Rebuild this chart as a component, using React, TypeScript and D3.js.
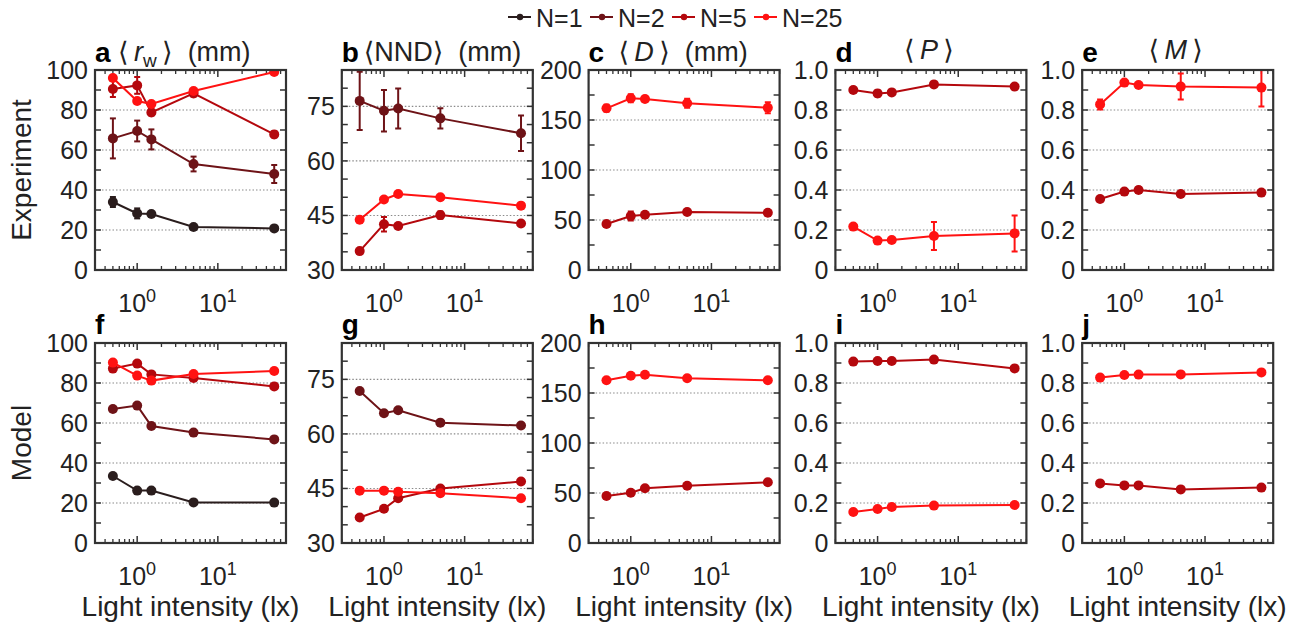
import React from "react";
import * as d3 from "d3";

// ---------------- data ----------------
const LIGHT_LUX = [0.5, 1, 1.5, 5, 50];
const SERIES_NAMES = ["N=1", "N=2", "N=5", "N=25"];
const SERIES_COLORS = ["#2a1d1d", "#6e1317", "#b4080d", "#ff1212"];
const ROW_LABELS = ["Experiment", "Model"];
const X_AXIS_LABEL = "Light intensity (lx)";
const X_TICK_EXPONENTS = [0, 1];

// Experiment: <r_w> (mm)
const rwExpN1 = [34, 28.3, 28, 21.5, 20.8];
const rwExpN1Err = [2.5, 2.5, 1.2, 1, 0.8];
const rwExpN2 = [65.8, 69.5, 65.3, 53, 48];
const rwExpN2Err = [10, 5.2, 5, 3.7, 4.5];
const rwExpN5 = [90.5, 92.3, 78.8, 88.3, 67.8];
const rwExpN5Err = [4, 4.2, 1.5, 1.5, 1.5];
const rwExpN25 = [96, 84.5, 83, 89.5, 99];
const rwExpN25Err = [1, 1, 1, 1, 0.8];

// Experiment: <NND> (mm)
const nndExpN2 = [76.5, 73.8, 74.4, 71.7, 67.6];
const nndExpN2Err = [8, 5.7, 5.5, 2.8, 4.9];
const nndExpN5 = [35.2, 42.6, 42.1, 45.1, 42.8];
const nndExpN5Err = [0.6, 2, 0.6, 1, 0.6];
const nndExpN25 = [43.8, 49.4, 50.9, 50, 47.7];
const nndExpN25Err = [0.5, 0.6, 0.5, 0.5, 0.5];

// Experiment: <D> (mm)
const dExpN5 = [46, 54, 55.3, 58, 57.3];
const dExpN5Err = [2, 4.5, 2, 2, 2];
const dExpN25 = [161.7, 171.7, 171, 166.7, 162.3];
const dExpN25Err = [3.5, 4, 2, 4.5, 5.5];

// Experiment: <P>
const pExpN5 = [0.9, 0.883, 0.888, 0.928, 0.917];
const pExpN5Err = [0.012, 0.015, 0.01, 0.01, 0.01];
const pExpN25 = [0.217, 0.147, 0.15, 0.17, 0.183];
const pExpN25Err = [0.01, 0.01, 0.01, 0.07, 0.09];

// Experiment: <M>
const mExpN5 = [0.355, 0.392, 0.4, 0.38, 0.387];
const mExpN5Err = [0.01, 0.012, 0.015, 0.01, 0.01];
const mExpN25 = [0.828, 0.937, 0.925, 0.917, 0.912];
const mExpN25Err = [0.025, 0.01, 0.01, 0.065, 0.095];

// Model
const rwModN1 = [33.5, 26.2, 26.2, 20.3, 20.2];
const rwModN2 = [67, 68.7, 58.5, 55.2, 51.8];
const rwModN5 = [87.2, 89.7, 84.3, 82.5, 78.3];
const rwModN25 = [90.2, 83.7, 81.2, 84.5, 86];

const nndModN2 = [71.8, 65.7, 66.5, 63.1, 62.3];
const nndModN5 = [37, 39.4, 42.3, 45, 46.9];
const nndModN25 = [44.4, 44.4, 44.1, 43.7, 42.3];

const dModN5 = [47, 50.3, 54.7, 57.3, 60.7];
const dModN25 = [162.7, 167.3, 168.3, 164.7, 162.7];

const pModN5 = [0.907, 0.91, 0.91, 0.917, 0.873];
const pModN25 = [0.155, 0.17, 0.18, 0.187, 0.19];

const mModN5 = [0.298, 0.288, 0.288, 0.268, 0.277];
const mModN25 = [0.827, 0.84, 0.842, 0.843, 0.853];

// ---------------- configuration ----------------
type Series = { idx: number; values: number[]; errors?: number[] };
type Measure = {
  key: string;
  yDomain: [number, number];
  yStep: number;
  yLabels: number[];
  grid: number[];
  fmt: (v: number) => string;
};

const fmtInt = (v: number) => String(v);
const fmtFrac = (v: number) => (v === 0 ? "0" : v.toFixed(1));

const MEASURES: Measure[] = [
  { key: "rw", yDomain: [0, 100], yStep: 10, yLabels: [0, 20, 40, 60, 80, 100], grid: [20, 40, 60, 80], fmt: fmtInt },
  { key: "nnd", yDomain: [30, 85], yStep: 5, yLabels: [30, 45, 60, 75], grid: [45, 60, 75], fmt: fmtInt },
  { key: "d", yDomain: [0, 200], yStep: 25, yLabels: [0, 50, 100, 150, 200], grid: [50, 100, 150], fmt: fmtInt },
  { key: "p", yDomain: [0, 1], yStep: 0.1, yLabels: [0, 0.2, 0.4, 0.6, 0.8, 1], grid: [0.2, 0.4, 0.6, 0.8], fmt: fmtFrac },
  { key: "m", yDomain: [0, 1], yStep: 0.1, yLabels: [0, 0.2, 0.4, 0.6, 0.8, 1], grid: [0.2, 0.4, 0.6, 0.8], fmt: fmtFrac },
];

const EXP_SERIES: Series[][] = [
  [
    { idx: 0, values: rwExpN1, errors: rwExpN1Err },
    { idx: 1, values: rwExpN2, errors: rwExpN2Err },
    { idx: 2, values: rwExpN5, errors: rwExpN5Err },
    { idx: 3, values: rwExpN25, errors: rwExpN25Err },
  ],
  [
    { idx: 1, values: nndExpN2, errors: nndExpN2Err },
    { idx: 2, values: nndExpN5, errors: nndExpN5Err },
    { idx: 3, values: nndExpN25, errors: nndExpN25Err },
  ],
  [
    { idx: 2, values: dExpN5, errors: dExpN5Err },
    { idx: 3, values: dExpN25, errors: dExpN25Err },
  ],
  [
    { idx: 2, values: pExpN5, errors: pExpN5Err },
    { idx: 3, values: pExpN25, errors: pExpN25Err },
  ],
  [
    { idx: 2, values: mExpN5, errors: mExpN5Err },
    { idx: 3, values: mExpN25, errors: mExpN25Err },
  ],
];

const MOD_SERIES: Series[][] = [
  [
    { idx: 0, values: rwModN1 },
    { idx: 1, values: rwModN2 },
    { idx: 2, values: rwModN5 },
    { idx: 3, values: rwModN25 },
  ],
  [
    { idx: 1, values: nndModN2 },
    { idx: 2, values: nndModN5 },
    { idx: 3, values: nndModN25 },
  ],
  [
    { idx: 2, values: dModN5 },
    { idx: 3, values: dModN25 },
  ],
  [
    { idx: 2, values: pModN5 },
    { idx: 3, values: pModN25 },
  ],
  [
    { idx: 2, values: mModN5 },
    { idx: 3, values: mModN25 },
  ],
];

const LETTERS = [
  ["a", "b", "c", "d", "e"],
  ["f", "g", "h", "i", "j"],
];

// ---------------- layout ----------------
const W = 1303;
const H = 628;
const COL_LEFT0 = 95;
const COL_STEP = 246.8;
const PW = 191;
const PH = 200;
const ROW_TOPS = [70, 343];
const FONT = "'Liberation Sans', Arial, Helvetica, 'DejaVu Sans', sans-serif";
const AXIS_COLOR = "#333";
const TEXT_COLOR = "#222";

function Title({ col, left }: { col: number; left: number }) {
  const cx = left + PW / 2;
  const common = { fontFamily: FONT, fontSize: 27, fill: TEXT_COLOR, style: { whiteSpace: "pre" as const } };
  const y = 61;
  if (col === 0)
    return (
      <text x={left + 23} y={y} {...common}>
        <tspan>{"\u27E8\u2009"}</tspan>
        <tspan fontStyle="italic">r</tspan>
        <tspan fontSize={19} dy={6}>w</tspan>
        <tspan dy={-6}>{"\u2009\u27E9\u00A0\u00A0(mm)"}</tspan>
      </text>
    );
  if (col === 1)
    return (
      <text x={left + 22} y={y} {...common}>
        {"\u27E8NND\u27E9\u00A0\u00A0(mm)"}
      </text>
    );
  if (col === 2)
    return (
      <text x={cx - 1} y={y} textAnchor="middle" {...common}>
        <tspan>{"\u27E8\u2009"}</tspan>
        <tspan fontStyle="italic">D</tspan>
        <tspan>{"\u2009\u27E9\u00A0\u00A0(mm)"}</tspan>
      </text>
    );
  const sym = col === 3 ? "P" : "M";
  return (
    <text x={cx - 2} y={y - 2} textAnchor="middle" {...common}>
      <tspan>{"\u27E8\u2009"}</tspan>
      <tspan fontStyle="italic">{sym}</tspan>
      <tspan>{"\u2009\u27E9"}</tspan>
    </text>
  );
}

function Panel({ row, col }: { row: number; col: number }) {
  const m = MEASURES[col];
  const series = row === 0 ? EXP_SERIES[col] : MOD_SERIES[col];
  const left = COL_LEFT0 + col * COL_STEP;
  const top = ROW_TOPS[row];
  const x = d3.scaleLog().domain([0.3, 70]).range([left, left + PW]);
  const y = d3.scaleLinear().domain(m.yDomain).range([top + PH, top]);
  const clipId = `clip-${row}-${col}`;

  const xMinor: number[] = [];
  const xMajor: number[] = [];
  [0.1, 1, 10].forEach((dec) => {
    for (let k = 1; k <= 9; k++) {
      const v = k * dec;
      if (v < 0.3 - 1e-9 || v > 70 + 1e-9) continue;
      if (k === 1) xMajor.push(v);
      else xMinor.push(v);
    }
  });
  const yTicks = d3.range(m.yDomain[0], m.yDomain[1] + m.yStep / 2, m.yStep);

  const line = d3
    .line<number>()
    .x((_, i) => x(LIGHT_LUX[i]))
    .y((v) => y(v));

  const bottom = top + PH;
  const right = left + PW;
  const capHalf = 3;

  return (
    <g>
      <defs>
        <clipPath id={clipId}>
          <rect x={left} y={top} width={PW} height={PH} />
        </clipPath>
      </defs>
      <rect x={left} y={top} width={PW} height={PH} fill="#fff" />
      {m.grid.map((g) => (
        <line key={"g" + g} x1={left} x2={right} y1={y(g)} y2={y(g)} stroke="#8a8a8a" strokeWidth={1.1} strokeDasharray="1.5 2" />
      ))}
      {/* ticks */}
      {xMinor.map((v) => (
        <g key={"xm" + v} stroke={AXIS_COLOR} strokeWidth={1.3}>
          <line x1={x(v)} x2={x(v)} y1={bottom} y2={bottom - 4} />
          <line x1={x(v)} x2={x(v)} y1={top} y2={top + 4} />
        </g>
      ))}
      {xMajor.map((v) => (
        <g key={"xM" + v} stroke={AXIS_COLOR} strokeWidth={1.5}>
          <line x1={x(v)} x2={x(v)} y1={bottom} y2={bottom - 7} />
          <line x1={x(v)} x2={x(v)} y1={top} y2={top + 7} />
        </g>
      ))}
      {yTicks.map((v) => (
        <g key={"yt" + v} stroke={AXIS_COLOR} strokeWidth={1.5}>
          <line x1={left} x2={left + 6} y1={y(v)} y2={y(v)} />
          <line x1={right} x2={right - 6} y1={y(v)} y2={y(v)} />
        </g>
      ))}
      {/* series */}
      <g clipPath={`url(#${clipId})`}>
        {series.map((s) => {
          const c = SERIES_COLORS[s.idx];
          return (
            <g key={"s" + s.idx}>
              <path d={line(s.values) || ""} fill="none" stroke={c} strokeWidth={2} />
              {s.errors &&
                s.values.map((v, i) => {
                  const e = s.errors![i];
                  const xx = x(LIGHT_LUX[i]);
                  const y1 = y(v - e);
                  const y2 = y(v + e);
                  return (
                    <g key={"e" + i} stroke={c} strokeWidth={2}>
                      <line x1={xx} x2={xx} y1={y1} y2={y2} />
                      <line x1={xx - capHalf} x2={xx + capHalf} y1={y1} y2={y1} />
                      <line x1={xx - capHalf} x2={xx + capHalf} y1={y2} y2={y2} />
                    </g>
                  );
                })}
              {s.values.map((v, i) => (
                <circle key={"c" + i} cx={x(LIGHT_LUX[i])} cy={y(v)} r={5} fill={c} />
              ))}
            </g>
          );
        })}
      </g>
      <rect x={left} y={top} width={PW} height={PH} fill="none" stroke={AXIS_COLOR} strokeWidth={2.2} />
      {/* y tick labels */}
      {m.yLabels.map((v) => (
        <text key={"yl" + v} x={left - 7} y={y(v)} dy="0.36em" textAnchor="end" fontFamily={FONT} fontSize={25} fill={TEXT_COLOR}>
          {m.fmt(v)}
        </text>
      ))}
      {/* x tick labels */}
      {X_TICK_EXPONENTS.map((ex) => (
        <text key={"xl" + ex} x={x(Math.pow(10, ex))} y={bottom + 42} textAnchor="middle" fontFamily={FONT} fontSize={25} fill={TEXT_COLOR}>
          <tspan>10</tspan>
          <tspan fontSize={18} dy={-10}>{String(ex)}</tspan>
        </text>
      ))}
      {/* letter */}
      <text x={left} y={row === 0 ? 62 : 334} fontFamily={FONT} fontWeight="bold" fontSize={28} fill="#000">
        {LETTERS[row][col]}
      </text>
      {row === 0 && <Title col={col} left={left} />}
      {row === 1 && (
        <text x={left + PW / 2} y={616} textAnchor="middle" fontFamily={FONT} fontSize={28} fill={TEXT_COLOR}>
          {X_AXIS_LABEL}
        </text>
      )}
      {col === 0 && (
        <text
          transform={`translate(31, ${top + PH / 2}) rotate(-90)`}
          textAnchor="middle"
          fontFamily={FONT}
          fontSize={28}
          fill={TEXT_COLOR}
        >
          {ROW_LABELS[row]}
        </text>
      )}
    </g>
  );
}

function Legend() {
  const x0 = 508;
  const step = 82;
  return (
    <g>
      {SERIES_NAMES.map((name, i) => {
        const lx = x0 + i * step;
        return (
          <g key={name}>
            <line x1={lx} x2={lx + 23} y1={17} y2={17} stroke={SERIES_COLORS[i]} strokeWidth={2} />
            <circle cx={lx + 12} cy={17} r={3.2} fill={SERIES_COLORS[i]} />
            <text x={lx + 28} y={26.5} fontFamily={FONT} fontSize={25} fill={TEXT_COLOR}>
              {name}
            </text>
          </g>
        );
      })}
    </g>
  );
}

export default function App() {
  return (
    <svg
      width={W}
      height={H}
      viewBox={`0 0 ${W} ${H}`}
      style={{ position: "absolute", left: 0, top: 0, background: "#fff" }}
    >
      <rect x={0} y={0} width={W} height={H} fill="#fff" />
      <Legend />
      {[0, 1].map((row) => [0, 1, 2, 3, 4].map((col) => <Panel key={`${row}-${col}`} row={row} col={col} />))}
    </svg>
  );
}
